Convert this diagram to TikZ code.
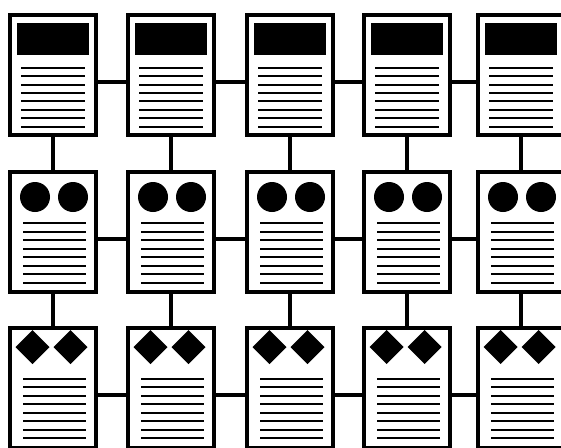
\documentclass[tikz,border=0pt]{standalone}
\begin{document}
\begin{tikzpicture}[x=1pt,y=-1pt,
  card/.style={rectangle, draw, line width=4pt, fill=white, minimum width=86pt, minimum height=120pt, inner sep=0pt, outer sep=0pt},
  conn/.style={line width=4.5pt},
  txtline/.style={line width=2pt}]
\useasboundingbox (0,0) rectangle (561,447);
\fill[white] (0,0) rectangle (561,447);
% cards
\foreach \r/\T in {1/13,2/170,3/326} {
  \foreach \c/\L in {1/8,2/126,3/245,4/362,5/476} {
    \node[card] (r\r c\c) at (\L+45,\T+62) {};
  }
}
% connectors
\foreach \r in {1,2,3} {
  \foreach \c/\n in {1/2,2/3,3/4,4/5} {
    \draw[conn] ([yshift=-7pt]r\r c\c.east) -- ([yshift=-7pt]r\r c\n.west);
  }
}
\foreach \c in {1,...,5} {
  \draw[conn] (r1c\c.south) -- (r2c\c.north);
  \draw[conn] (r2c\c.south) -- (r3c\c.north);
}
% contents
\foreach \L in {8,126,245,362,476} {
  % row 1
  \fill (\L+8.5,23) rectangle (\L+80.5,55);
  \foreach \k in {0,...,7} {
    \draw[txtline] (\L+13,67.7+8.43*\k) -- (\L+77,67.7+8.43*\k);
  }
  % row 2
  \fill (\L+27,197) circle (15pt);
  \fill (\L+65,197) circle (15pt);
  \foreach \k in {0,...,7} {
    \draw[txtline] (\L+15,223+8.5*\k) -- (\L+78,223+8.5*\k);
  }
  % row 3
  \fill (\L+24.5,330) -- (\L+41.5,347) -- (\L+24.5,364) -- (\L+7.5,347) -- cycle;
  \fill (\L+62.5,330) -- (\L+79.5,347) -- (\L+62.5,364) -- (\L+45.5,347) -- cycle;
  \foreach \k in {0,...,7} {
    \draw[txtline] (\L+15,379+8.43*\k) -- (\L+78,379+8.43*\k);
  }
}
\end{tikzpicture}
\end{document}
